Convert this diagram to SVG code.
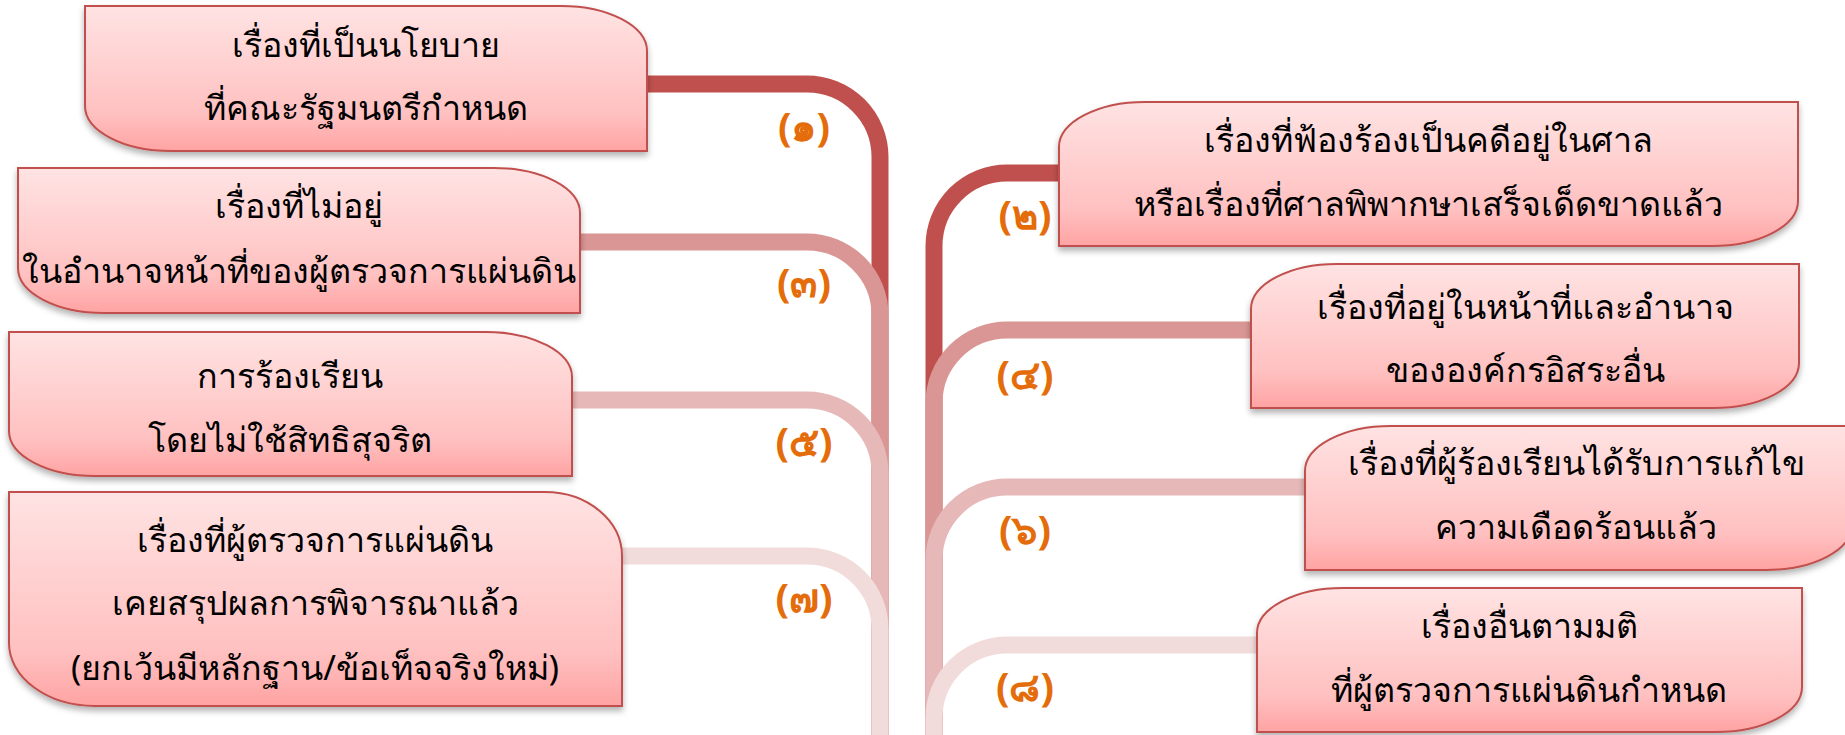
<svg xmlns="http://www.w3.org/2000/svg" width="1845" height="735" viewBox="0 0 1845 735">
<defs>
<linearGradient id="bg" x1="0" y1="0" x2="0" y2="1">
<stop offset="0" stop-color="#FFE3E3"/>
<stop offset="0.75" stop-color="#FFC0C0"/>
<stop offset="1" stop-color="#FFA3A3"/>
</linearGradient>
<filter id="sh" x="-5%" y="-10%" width="110%" height="125%">
<feDropShadow dx="0" dy="4" stdDeviation="3" flood-color="#000" flood-opacity="0.3"/>
</filter>
</defs>
<style>
.box{fill:url(#bg);stroke:#C0504D;stroke-width:2;filter:url(#sh)}
.t{font-family:"Noto Sans","DejaVu Sans",sans-serif;font-size:34px;fill:#000;text-anchor:middle}
.n{font-family:"Noto Sans","DejaVu Sans",sans-serif;font-size:40px;font-weight:bold;fill:#E46C0A;text-anchor:middle}
.c{fill:none;stroke-width:17}
.c1{stroke:#C0504D}.c2{stroke:#D99694}.c3{stroke:#E6B9B8}.c4{stroke:#F2DCDB}
</style>
<rect width="1845" height="735" fill="#FFFFFF"/>
<g id="connectors">
<path class="c c1" d="M640,84 H807 A73,73 0 0 1 880,157 V745"/>
<path class="c c2" d="M575,242 H807 A73,73 0 0 1 880,315 V745"/>
<path class="c c3" d="M565,400 H807 A73,73 0 0 1 880,473 V745"/>
<path class="c c4" d="M615,556 H807 A73,73 0 0 1 880,629 V745"/>
<path class="c c1" d="M1065,173 H1007 A73,73 0 0 0 934,246 V745"/>
<path class="c c2" d="M1258,330 H1007 A73,73 0 0 0 934,403 V745"/>
<path class="c c3" d="M1312,487 H1007 A73,73 0 0 0 934,560 V745"/>
<path class="c c4" d="M1264,645 H1007 A73,73 0 0 0 934,718 V745"/>
</g>
<g id="labels">
<text class="n" x="804" y="141">(๑)</text>
<text class="n" x="804" y="297">(๓)</text>
<text class="n" x="804" y="456">(๕)</text>
<text class="n" x="804" y="612">(๗)</text>
<text class="n" x="1025" y="229">(๒)</text>
<text class="n" x="1025" y="389">(๔)</text>
<text class="n" x="1025" y="544">(๖)</text>
<text class="n" x="1025" y="701">(๘)</text>
</g>
<g id="node1">
<path class="box" d="M85,6 H561 A86,45 0 0 1 647,51 V151 H171 A86,45 0 0 1 85,106 Z"/>
<text class="t" x="366" y="57">เรื่องที่เป็นนโยบาย</text>
<text class="t" x="366" y="120">ที่คณะรัฐมนตรีกำหนด</text>
</g>
<g id="node3">
<path class="box" d="M18,168 H494 A86,45 0 0 1 580,213 V313 H104 A86,45 0 0 1 18,268 Z"/>
<text class="t" x="299" y="218">เรื่องที่ไม่อยู่</text>
<text class="t" x="299" y="283">ในอำนาจหน้าที่ของผู้ตรวจการแผ่นดิน</text>
</g>
<g id="node5">
<path class="box" d="M9,332 H486 A86,45 0 0 1 572,377 V476 H95 A86,45 0 0 1 9,431 Z"/>
<text class="t" x="290" y="388">การร้องเรียน</text>
<text class="t" x="290" y="452">โดยไม่ใช้สิทธิสุจริต</text>
</g>
<g id="node7">
<path class="box" d="M9,492 H545 A77,64 0 0 1 622,556 V706 H95 A86,63 0 0 1 9,643 Z"/>
<text class="t" x="315" y="552">เรื่องที่ผู้ตรวจการแผ่นดิน</text>
<text class="t" x="315" y="615">เคยสรุปผลการพิจารณาแล้ว</text>
<text class="t" x="315" y="680">(ยกเว้นมีหลักฐาน/ข้อเท็จจริงใหม่)</text>
</g>
<g id="node2">
<path class="box" d="M1145,102 H1798 V201 A86,45 0 0 1 1712,246 H1059 V147 A86,45 0 0 1 1145,102 Z"/>
<text class="t" x="1428" y="152">เรื่องที่ฟ้องร้องเป็นคดีอยู่ในศาล</text>
<text class="t" x="1428" y="216">หรือเรื่องที่ศาลพิพากษาเสร็จเด็ดขาดแล้ว</text>
</g>
<g id="node4">
<path class="box" d="M1337,264 H1799 V363 A86,45 0 0 1 1713,408 H1251 V309 A86,45 0 0 1 1337,264 Z"/>
<text class="t" x="1525" y="319">เรื่องที่อยู่ในหน้าที่และอำนาจ</text>
<text class="t" x="1525" y="382">ขององค์กรอิสระอื่น</text>
</g>
<g id="node6">
<path class="box" d="M1391,426 H1852 V525 A86,45 0 0 1 1766,570 H1305 V471 A86,45 0 0 1 1391,426 Z"/>
<text class="t" x="1576" y="475">เรื่องที่ผู้ร้องเรียนได้รับการแก้ไข</text>
<text class="t" x="1576" y="539">ความเดือดร้อนแล้ว</text>
</g>
<g id="node8">
<path class="box" d="M1343,588 H1802 V687 A86,45 0 0 1 1716,732 H1257 V633 A86,45 0 0 1 1343,588 Z"/>
<text class="t" x="1529" y="638">เรื่องอื่นตามมติ</text>
<text class="t" x="1529" y="702">ที่ผู้ตรวจการแผ่นดินกำหนด</text>
</g>
</svg>
